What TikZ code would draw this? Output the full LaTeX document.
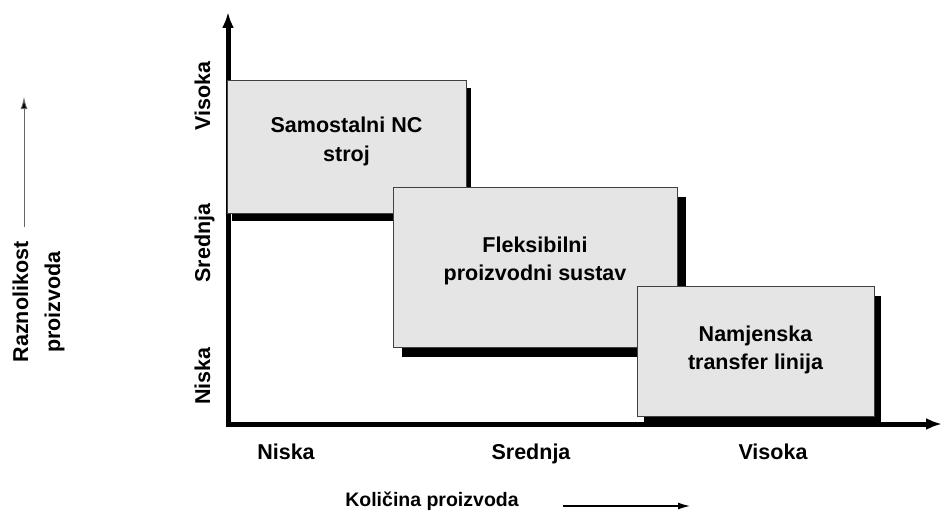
\documentclass[tikz,border=0pt]{standalone}
\usepackage{fontspec}
\setmainfont{Liberation Sans}
\usetikzlibrary{arrows.meta,shadows}
\begin{document}
\begin{tikzpicture}[x=1pt,y=-1pt,
  lbl/.style={font=\fontsize{21.5}{26}\selectfont\bfseries, inner sep=0pt},
  boxst/.style={draw=black!75, line width=0.9pt, fill=black!10,
    inner sep=0pt},
  boxtxt/.style={align=center, inner sep=0pt, font=\fontsize{21.5}{28.5}\selectfont\bfseries},
  axisline/.style={line width=5pt, line join=miter,
    {Latex[length=16pt,width=12pt]}-{Latex[length=16pt,width=12pt]}},
  thinarrow/.style={line width=1.2pt, -{Latex[length=12pt,width=7pt]}}
]
\useasboundingbox (0,0) rectangle (942,511);

% axes
\coordinate (ytop) at (228,12);
\coordinate (orig) at (228,424);
\coordinate (xend) at (942,424);
\draw[axisline] (ytop) -- (orig) -- (xend);

% boxes
\node[boxst, minimum width=239pt, minimum height=133pt,
  drop shadow={shadow xshift=5pt, shadow yshift=-7.5pt, fill=black, opacity=1}]
  (b1) at (346.5,146.5) {};
\node[boxtxt] (t1) at ([yshift=5pt]b1.center) {Samostalni NC\\stroj};
\node[boxst, minimum width=284pt, minimum height=160pt,
  drop shadow={shadow xshift=8.5pt, shadow yshift=-9.5pt, fill=black, opacity=1}]
  (b2) at (535,267) {};
\node[boxtxt] (t2) at ([yshift=6pt]b2.center) {Fleksibilni\\proizvodni sustav};
\node[boxst, minimum width=237pt, minimum height=130pt,
  drop shadow={shadow xshift=7pt, shadow yshift=-9.5pt, fill=black, opacity=1}]
  (b3) at (755.5,351) {};
\node[boxtxt] (t3) at ([yshift=1pt]b3.center) {Namjenska\\transfer linija};

% y axis level labels
\node[lbl, rotate=90, anchor=base] (yv) at (210,96) {Visoka};
\node[lbl, rotate=90, anchor=base] (ys) at (210,243) {Srednja};
\node[lbl, rotate=90, anchor=base] (yn) at (210,376) {Niska};

% x axis level labels
\node[lbl, anchor=base] (xn) at (286,459) {Niska};
\node[lbl, anchor=base] (xs) at (531,459) {Srednja};
\node[lbl, anchor=base] (xv) at (773,459) {Visoka};

% axis titles
\node[lbl, rotate=90, anchor=base] (yt1) at (28,302) {Raznolikost};
\node[lbl, rotate=90, anchor=base] (yt2) at (60,302) {proizvoda};
\coordinate (ya0) at (24,227);
\coordinate (ya1) at (24,97);
\draw[line width=1pt, draw=black!60, -{Latex[length=12pt,width=7pt,fill=black]}] (ya0) -- (ya1);

\node[lbl, font=\fontsize{19.5}{24}\selectfont\bfseries, anchor=base] (xt) at (432,506) {Količina proizvoda};
\coordinate (xa0) at (563,506);
\coordinate (xa1) at (690,506);
\draw[thinarrow] (xa0) -- (xa1);
\end{tikzpicture}
\end{document}
